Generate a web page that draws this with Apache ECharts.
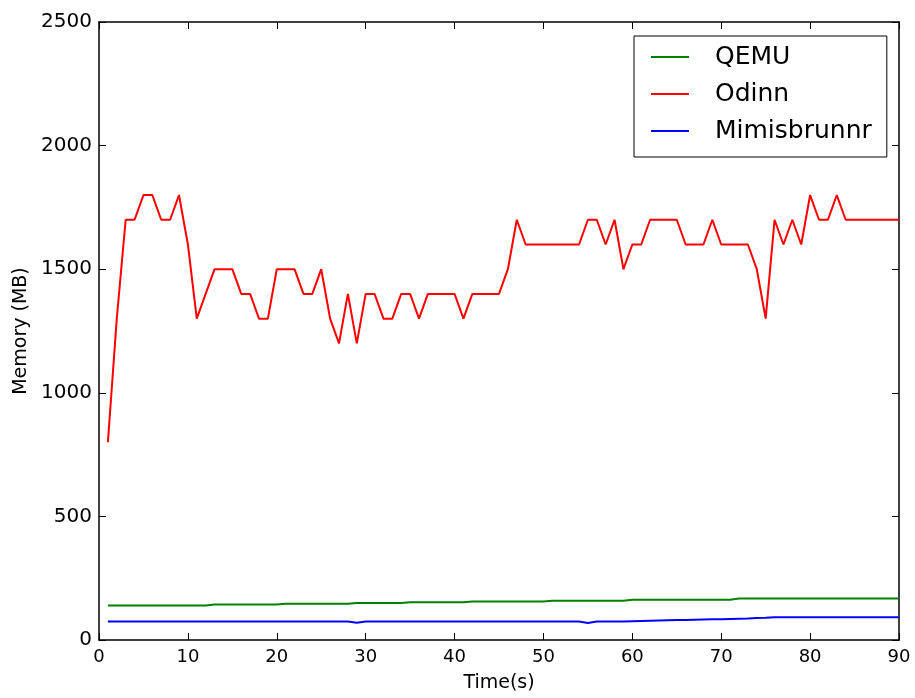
<!DOCTYPE html>
<html>
<head>
<meta charset="utf-8">
<script src="https://cdn.jsdelivr.net/npm/echarts@6/dist/echarts.min.js"></script>
<style>
  html, body { margin: 0; padding: 0; background: #fff; }
  #main { width: 915px; height: 698px; }
</style>
</head>
<body>
<div id="main"></div>
<script>
// sample times (s)
var time = [1, 2, 3, 4, 5, 6, 7, 8, 9, 10, 11, 12, 13, 14, 15, 16, 17, 18, 19, 20,
  21, 22, 23, 24, 25, 26, 27, 28, 29, 30, 31, 32, 33, 34, 35, 36, 37, 38, 39, 40,
  41, 42, 43, 44, 45, 46, 47, 48, 49, 50, 51, 52, 53, 54, 55, 56, 57, 58, 59, 60,
  61, 62, 63, 64, 65, 66, 67, 68, 69, 70, 71, 72, 73, 74, 75, 76, 77, 78, 79, 80,
  81, 82, 83, 84, 85, 86, 87, 88, 89, 90];

// memory (MB)
var qemu = [140, 140, 140, 140, 140, 140, 140, 140, 140, 140, 140, 140, 144, 144, 144, 144, 144, 144, 144, 144,
  147, 147, 147, 147, 147, 147, 147, 147, 150, 150, 150, 150, 150, 150, 153, 153, 153, 153, 153, 153,
  153, 156, 156, 156, 156, 156, 156, 156, 156, 156, 159, 159, 159, 159, 159, 159, 159, 159, 159, 163,
  163, 163, 163, 163, 163, 163, 163, 163, 163, 163, 163, 168, 168, 168, 168, 168, 168, 168, 168, 168,
  168, 168, 168, 168, 168, 168, 168, 168, 168, 168];

var odinn = [800, 1300, 1700, 1700, 1800, 1800, 1700, 1700, 1800, 1600, 1300, 1400, 1500, 1500, 1500, 1400, 1400, 1300, 1300, 1500,
  1500, 1500, 1400, 1400, 1500, 1300, 1200, 1400, 1200, 1400, 1400, 1300, 1300, 1400, 1400, 1300, 1400, 1400, 1400, 1400,
  1300, 1400, 1400, 1400, 1400, 1500, 1700, 1600, 1600, 1600, 1600, 1600, 1600, 1600, 1700, 1700, 1600, 1700, 1500, 1600,
  1600, 1700, 1700, 1700, 1700, 1600, 1600, 1600, 1700, 1600, 1600, 1600, 1600, 1500, 1300, 1700, 1600, 1700, 1600, 1800,
  1700, 1700, 1800, 1700, 1700, 1700, 1700, 1700, 1700, 1700];

var mimisbrunnr = [75, 75, 75, 75, 75, 75, 75, 75, 75, 75, 75, 75, 75, 75, 75, 75, 75, 75, 75, 75,
  75, 75, 75, 75, 75, 75, 75, 75, 70, 75, 75, 75, 75, 75, 75, 75, 75, 75, 75, 75,
  75, 75, 75, 75, 75, 75, 75, 75, 75, 75, 75, 75, 75, 75, 69, 75, 75, 75, 75, 76,
  77, 78, 79, 80, 81, 81, 82, 83, 84, 84, 85, 86, 87, 89, 90, 92, 92, 92, 92, 92,
  92, 92, 92, 92, 92, 92, 92, 92, 92, 92];

var font = 'DejaVu Sans';

function pairs(ys) {
  return time.map(function (t, i) { return [t, ys[i]]; });
}

function plain(v) { return String(v); }

var myChart = echarts.init(document.getElementById('main'), null, { renderer: 'canvas' });

var frameAxis = {
  axisLine: { show: true, onZero: false, lineStyle: { color: '#000', width: 1.5 } },
  axisTick: { show: true, inside: true, length: 7, lineStyle: { color: '#000', width: 1 } },
  splitLine: { show: false }
};

var option = {
  animation: false,
  backgroundColor: '#fff',
  grid: { left: 99, right: 16, top: 22, bottom: 57 },
  legend: {
    data: ['QEMU', 'Odinn', 'Mimisbrunnr'],
    orient: 'vertical',
    left: 634,
    top: 36,
    icon: 'rect',
    itemWidth: 38,
    itemHeight: 2,
    itemGap: 7,
    padding: [6, 15, 11, 17],
    borderColor: '#000',
    borderWidth: 1,
    backgroundColor: '#fff',
    textStyle: { fontFamily: font, fontSize: 25, color: '#000', lineHeight: 30, padding: [0, 0, 0, 21] }
  },
  xAxis: [
    Object.assign({
      type: 'value', min: 0, max: 90, interval: 10,
      name: 'Time(s)', nameLocation: 'middle', nameGap: 34,
      nameTextStyle: { fontFamily: font, fontSize: 19, color: '#000' },
      axisLabel: { fontFamily: font, fontSize: 18, color: '#000', margin: 8, formatter: plain }
    }, frameAxis),
    Object.assign({
      type: 'value', min: 0, max: 90, interval: 10, position: 'top',
      axisLabel: { show: false }
    }, frameAxis)
  ],
  yAxis: [
    Object.assign({
      type: 'value', min: 0, max: 2500, interval: 500,
      name: 'Memory (MB)', nameLocation: 'middle', nameGap: 68,
      nameTextStyle: { fontFamily: font, fontSize: 19, color: '#000' },
      axisLabel: { fontFamily: font, fontSize: 20, color: '#000', margin: 7, formatter: plain }
    }, frameAxis),
    Object.assign({
      type: 'value', min: 0, max: 2500, interval: 500, position: 'right',
      axisLabel: { show: false }
    }, frameAxis)
  ],
  series: [
    {
      name: 'QEMU', type: 'line', symbol: 'none',
      itemStyle: { color: '#008000' },
      lineStyle: { color: '#008000', width: 2 },
      data: pairs(qemu)
    },
    {
      name: 'Odinn', type: 'line', symbol: 'none',
      itemStyle: { color: '#ff0000' },
      lineStyle: { color: '#ff0000', width: 2 },
      data: pairs(odinn)
    },
    {
      name: 'Mimisbrunnr', type: 'line', symbol: 'none',
      itemStyle: { color: '#0000ff' },
      lineStyle: { color: '#0000ff', width: 2 },
      data: pairs(mimisbrunnr)
    }
  ]
};

myChart.setOption(option);
</script>
</body>
</html>
